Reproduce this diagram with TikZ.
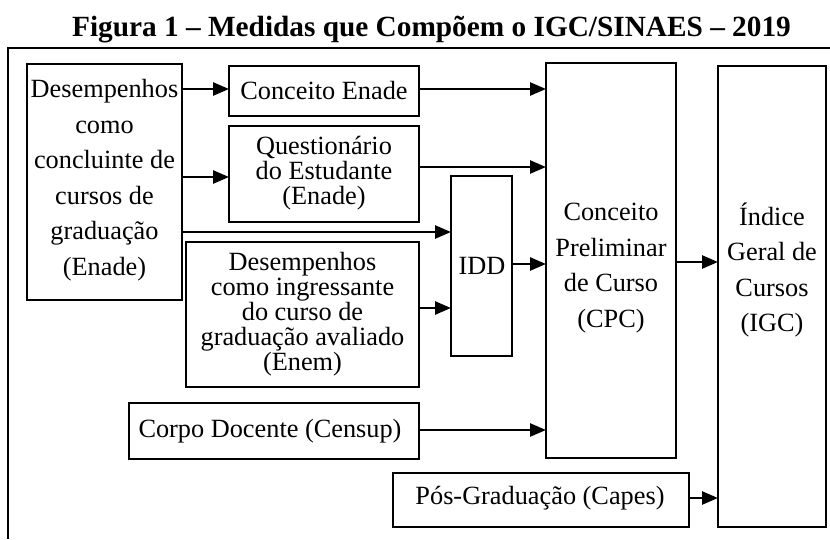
\documentclass[tikz,border=0pt]{standalone}
\usepackage{fontspec}
\setmainfont{Liberation Serif}
\usetikzlibrary{arrows.meta}
\begin{document}
\begin{tikzpicture}[x=1pt,y=-1pt,
  box/.style={draw, line width=1.2pt, inner sep=0pt, outer sep=0pt},
  txt/.style={align=center, inner sep=0pt, font=\fontsize{26.3}{35.5}\selectfont},
  tight/.style={align=center, inner sep=0pt, font=\fontsize{26.3}{25}\selectfont},
  arr/.style={line width=2.6pt, -{Triangle[length=16pt,width=13pt]}},
  frame/.style={line width=1.4pt}]
\useasboundingbox (0,0) rectangle (830,539);

% title
\node[anchor=base, inner sep=0pt, font=\fontsize{29.3}{31}\selectfont\bfseries] (title) at (431.5,36)
  {Figura 1 – Medidas que Compõem o IGC/SINAES – 2019};

% frame
\coordinate (ftl) at (8,48);
\coordinate (ftr) at (830,48);
\coordinate (fbl) at (8,539);
\draw[frame] (ftr) -- (ftl) -- (fbl);

% boxes
\node[box, minimum width=155, minimum height=236] (A) at (104.5,182) {};
\node[box, minimum width=190, minimum height=50] (CE) at (324,91) {};
\node[box, minimum width=190, minimum height=96] (Q) at (324,174) {};
\node[box, minimum width=61, minimum height=180] (IDD) at (481.5,266) {};
\node[box, minimum width=233, minimum height=145] (ING) at (302.5,314.5) {};
\node[box, minimum width=290, minimum height=56] (CD) at (274,431) {};
\node[box, minimum width=296, minimum height=54] (PG) at (541,500) {};
\node[box, minimum width=130, minimum height=395] (CPC) at (611,260.5) {};
\node[box, minimum width=108, minimum height=461] (IGC) at (772,296.5) {};

% texts
\node[txt] (At) at (104.5,180) {Desempenhos\\como\\concluinte de\\cursos de\\graduação\\(Enade)};
\node[txt] (CEt) at (324,90) {Conceito Enade};
\node[tight] (Qt) at (324,173) {Questionário\\do Estudante\\(Enade)};
\node[txt] (IDDt) at (482,266) {IDD};
\node[tight] (INGt) at (302.5,314) {Desempenhos\\como ingressante\\do curso de\\graduação avaliado\\(Enem)};
\node[txt] (CDt) at (270,431) {Corpo Docente (Censup)};
\node[txt] (PGt) at (540,498) {Pós-Graduação (Capes)};
\node[txt] (CPCt) at (611,268) {Conceito\\Preliminar\\de Curso\\(CPC)};
\node[txt] (IGCt) at (772,270) {Índice\\Geral de\\Cursos\\(IGC)};

% arrow rows
\coordinate (r89) at (0,89);
\coordinate (r177) at (0,177);
\coordinate (r167) at (0,167);
\coordinate (r232) at (0,232);
\coordinate (r308) at (0,308);
\coordinate (r264) at (0,264);
\coordinate (r262) at (0,262);
\coordinate (r430) at (0,430);
\coordinate (r498) at (0,498);

\draw[arr] (A.east |- r89) -- (CE.west |- r89);
\draw[arr] (A.east |- r177) -- (Q.west |- r177);
\draw[arr] (CE.east |- r89) -- (CPC.west |- r89);
\draw[arr] (Q.east |- r167) -- (CPC.west |- r167);
\draw[arr] (A.east |- r232) -- (IDD.west |- r232);
\draw[arr] (ING.east |- r308) -- (IDD.west |- r308);
\draw[arr] (IDD.east |- r264) -- (CPC.west |- r264);
\draw[arr] (CD.east |- r430) -- (CPC.west |- r430);
\draw[arr] (CPC.east |- r262) -- (IGC.west |- r262);
\draw[arr] (PG.east |- r498) -- (IGC.west |- r498);
\end{tikzpicture}
\end{document}
